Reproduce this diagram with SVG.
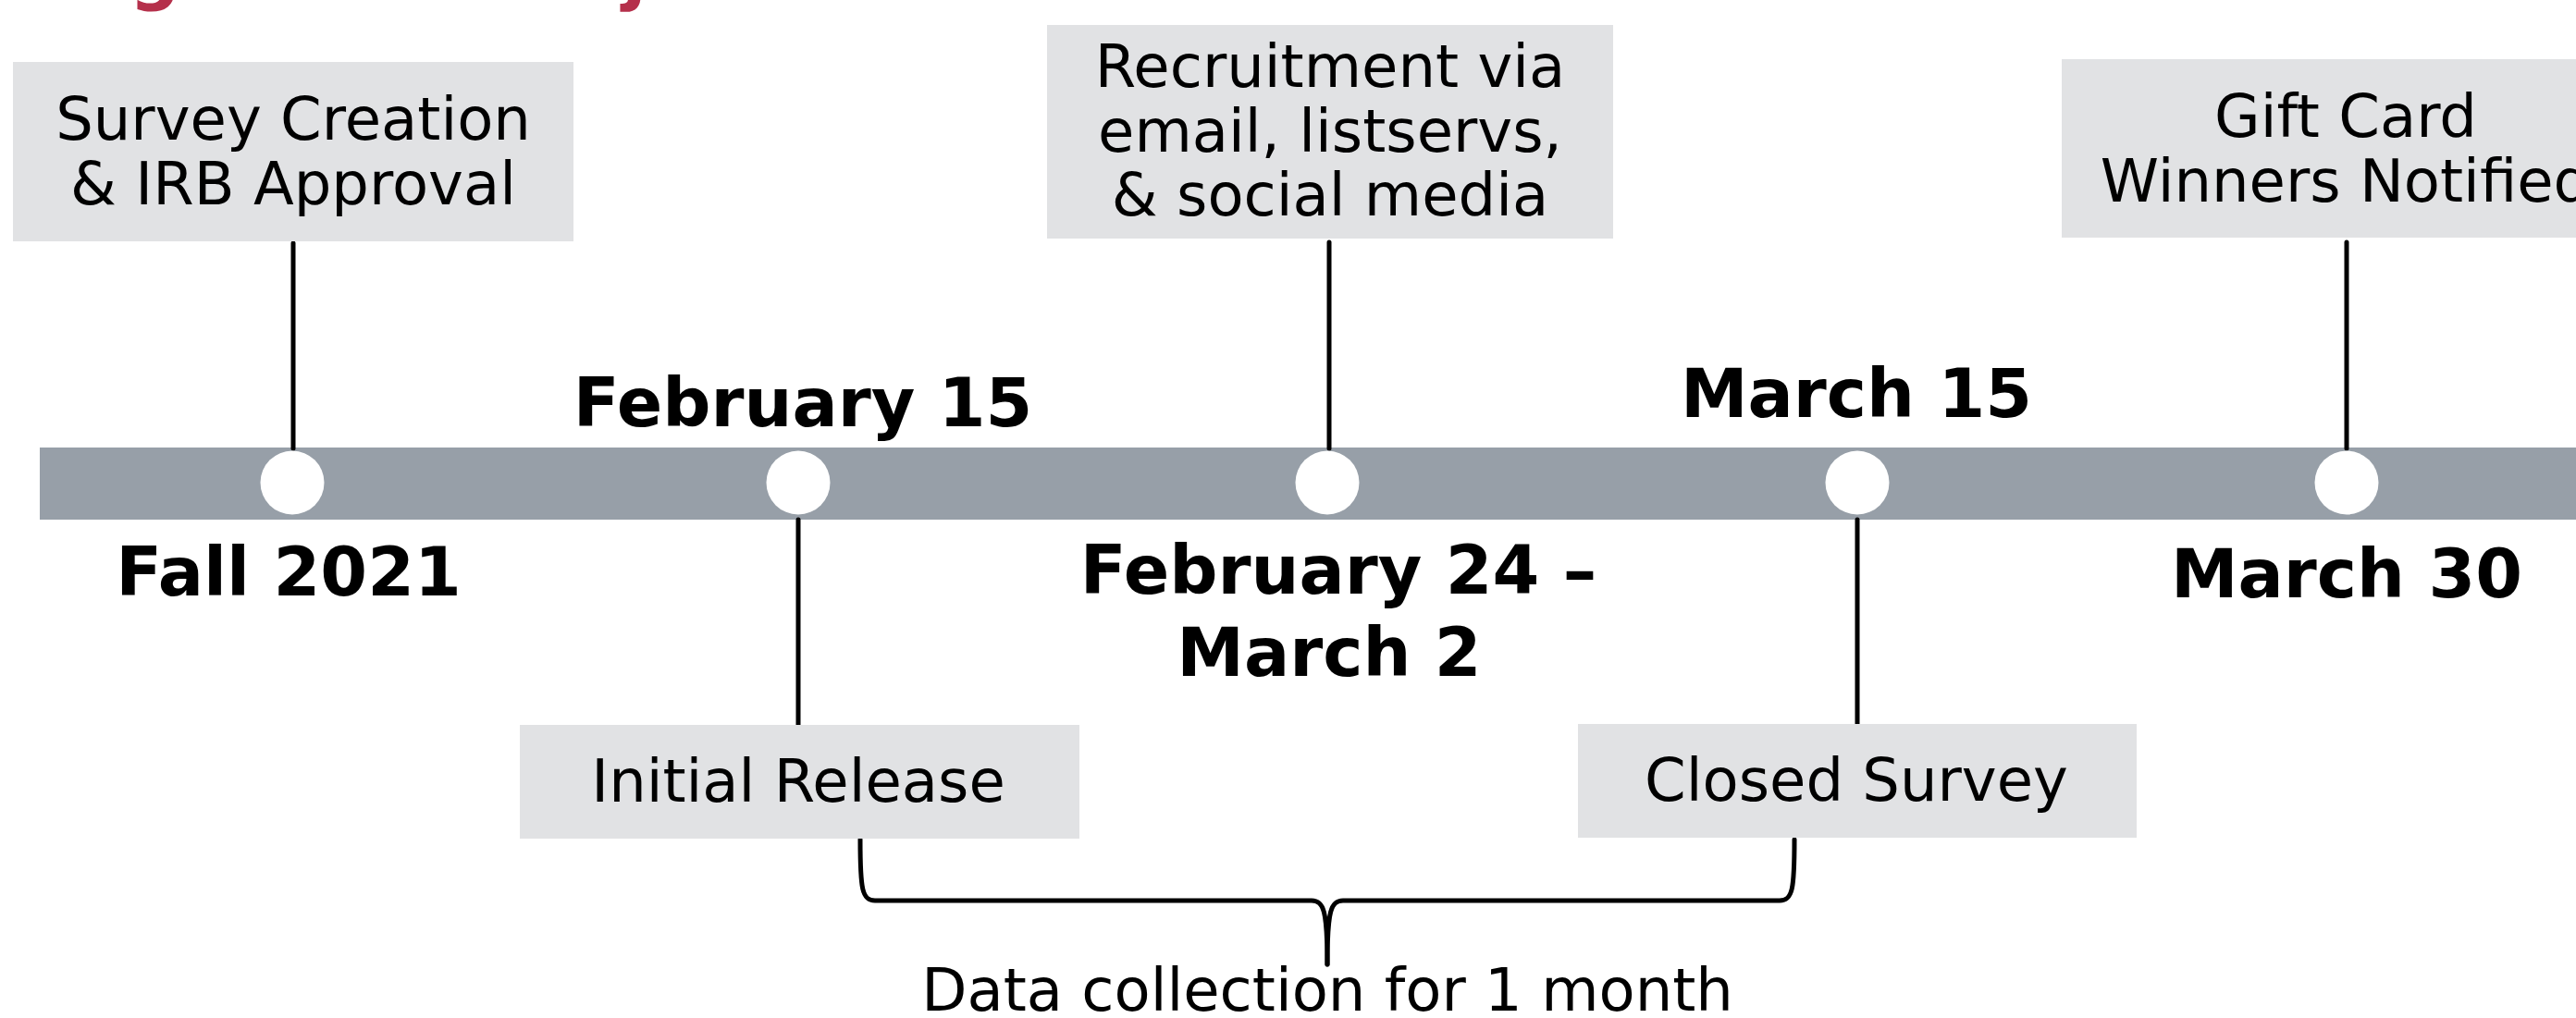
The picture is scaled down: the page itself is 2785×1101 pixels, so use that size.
<svg xmlns="http://www.w3.org/2000/svg" width="2785" height="1101" viewBox="0 0 2785 1101">
<style>
.box{fill:#E1E2E4}
.lbl{font-family:"DejaVu Sans",Verdana,sans-serif;font-size:64px;fill:#000;text-anchor:middle}
.date{font-family:"DejaVu Sans",Verdana,sans-serif;font-size:73px;font-weight:bold;fill:#000;text-anchor:middle}
.ttl{font-family:"DejaVu Sans",Verdana,sans-serif;font-size:76px;font-weight:bold;fill:#B5304B}
.ln{stroke:#000;stroke-width:5;fill:none;stroke-linecap:round}
.dot{fill:#fff}
</style>
<rect width="2785" height="1101" fill="#fff"/>
<g id="title">
<text class="ttl" x="140" y="-4">g</text>
<text class="ttl" x="673" y="-4">j</text>
</g>
<g id="bar"><rect x="43" y="484" width="2742" height="78" fill="#979FA8"/></g>
<g id="connectors">
<line class="ln" x1="317" y1="263" x2="317" y2="485"/>
<line class="ln" x1="1437" y1="262" x2="1437" y2="485"/>
<line class="ln" x1="2537" y1="262" x2="2537" y2="485"/>
<line class="ln" x1="863" y1="562" x2="863" y2="784"/>
<line class="ln" x1="2008" y1="562" x2="2008" y2="783"/>
<path class="ln" d="M930,908 C930,962 932,974 946,974 L1418,974 C1431,974 1435,984 1435,1043"/>
<path class="ln" d="M1940,908 C1940,962 1938,974 1924,974 L1452,974 C1439,974 1435,984 1435,1043"/>
</g>
<g id="n-fall">
<rect class="box" x="14" y="67" width="606" height="194"/>
<text class="lbl" x="317" y="151">Survey Creation</text>
<text class="lbl" x="317" y="221">&amp; IRB Approval</text>
<circle class="dot" cx="316" cy="522" r="34.5"/>
<text class="date" x="312" y="644">Fall 2021</text>
</g>
<g id="n-feb15">
<circle class="dot" cx="863" cy="522" r="34.5"/>
<text class="date" x="868" y="461">February 15</text>
<rect class="box" x="562" y="784" width="605" height="123"/>
<text class="lbl" x="863" y="867">Initial Release</text>
</g>
<g id="n-feb24">
<rect class="box" x="1132" y="27" width="612" height="231"/>
<text class="lbl" x="1438" y="94">Recruitment via</text>
<text class="lbl" x="1438" y="164">email, listservs,</text>
<text class="lbl" x="1438" y="233">&amp; social media</text>
<circle class="dot" cx="1435" cy="522" r="34.5"/>
<text class="date" x="1447" y="642">February 24 –</text>
<text class="date" x="1437" y="731">March 2</text>
</g>
<g id="n-mar15">
<circle class="dot" cx="2008" cy="522" r="34.5"/>
<text class="date" x="2007" y="451">March 15</text>
<rect class="box" x="1706" y="783" width="604" height="123"/>
<text class="lbl" x="2007" y="866">Closed Survey</text>
</g>
<g id="n-mar30">
<rect class="box" x="2229" y="64" width="614" height="193"/>
<text class="lbl" x="2536" y="148">Gift Card</text>
<text class="lbl" x="2536" y="218">Winners Notified</text>
<circle class="dot" cx="2537" cy="522" r="34.5"/>
<text class="date" x="2537" y="646">March 30</text>
</g>
<g id="n-data">
<text class="lbl" x="1435" y="1093">Data collection for 1 month</text>
</g>
</svg>
